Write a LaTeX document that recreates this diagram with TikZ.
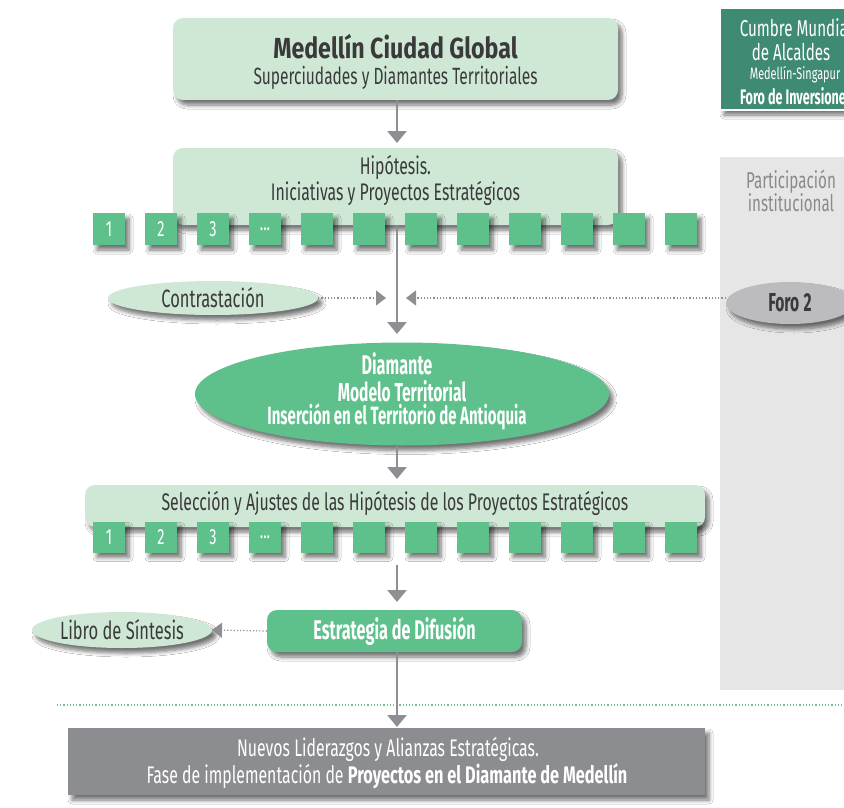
\documentclass[tikz,border=0pt]{standalone}
\usepackage{fontspec}
\setmainfont{Fira Sans}[FakeStretch=0.66]
\newfontfamily\titlefont{Fira Sans}[FakeStretch=0.8]
\newfontfamily\condbold{Fira Sans}[FakeStretch=0.6]
\newfontfamily\medbold{Fira Sans}[FakeStretch=0.68]
\usetikzlibrary{shapes.geometric,arrows.meta,shadows.blur}
\definecolor{lgreen}{HTML}{CFE8D6}
\definecolor{mgreen}{HTML}{5EC08B}
\definecolor{dgreen}{HTML}{3E8A73}
\definecolor{panelgray}{HTML}{E6E6E7}
\definecolor{linegray}{HTML}{8E8F92}
\definecolor{boxgray}{HTML}{8C8D90}
\definecolor{forogray}{HTML}{BCBCBE}
\definecolor{txtdark}{HTML}{3A3A3A}
\definecolor{txtgray}{HTML}{8A8A8D}
\definecolor{dotgreen}{HTML}{6CCB8F}
\newcommand{\fsz}[1]{\fontsize{#1}{#1}\selectfont}
\tikzset{
  shad/.style={blur shadow={shadow xshift=4pt,shadow yshift=-5pt,shadow blur radius=4pt,shadow blur steps=6,shadow opacity=55}},
  lbox/.style={rectangle,rounded corners=10pt,fill=lgreen,shad,align=center,text=txtdark,inner sep=0pt},
  sq/.style={rectangle,fill=mgreen,minimum width=32pt,minimum height=32pt,inner sep=0pt,text=white,font=\fsz{22},shad},
  ell/.style={ellipse,inner sep=0pt,shad,align=center},
  txt/.style={inner sep=0pt},
  flow/.style={draw=linegray,line width=2.6pt,-{Triangle[width=19pt,length=12pt]}},
  dotarrow/.style={draw=linegray,line width=1.2pt,dotted,-{Triangle[width=15pt,length=10pt]}},
}
\begin{document}
\begin{tikzpicture}[x=1pt,y=-1pt]
\useasboundingbox (0,0) rectangle (844,808);
\clip (0,0) rectangle (844,808);
\fill[white] (0,0) rectangle (844,808);
% participation panel
\node[rectangle,fill=panelgray,minimum width=140pt,minimum height=533pt,inner sep=0pt,anchor=north west] (panel) at (720,157) {};
\node[text=txtgray,align=center,font=\fontsize{23}{23}\selectfont] (parttxt) at (791,191) {Participación\\institucional};
% green dotted separator
\coordinate (sepL) at (57,705);
\coordinate (sepR) at (844,705);
\draw[dotgreen,line width=1.2pt,dotted] (sepL) -- (sepR);
% top box
\node[lbox,minimum width=445pt,minimum height=82pt] (top) at (395.5,59) {};
\node[txt,text=txtdark,font=\titlefont\bfseries\fsz{29}] (toptitle) at (395.5,47) {Medellín Ciudad Global};
\node[txt,text=txtdark,font=\fsz{23.5}] (topsub) at (395.5,78) {Superciudades y Diamantes Territoriales};
% cumbre box
\node[rectangle,fill=dgreen,draw=white,line width=2pt,minimum width=140pt,minimum height=102pt,inner sep=0pt,shad] (cumbre) at (790,59) {};
\node[txt,text=white,font=\fsz{23}] (cumbre1) at (796,28) {Cumbre Mundial};
\node[txt,text=white,font=\fsz{23}] (cumbre1b) at (791,52) {de Alcaldes};
\node[txt,text=white,font=\fsz{16.5}] (cumbre2) at (795,75) {Medellín-Singapur};
\node[txt,text=white,font=\condbold\bfseries\fsz{21}] (cumbre3) at (796,96) {Foro de Inversiones};
% hypothesis box
\node[lbox,minimum width=445pt,minimum height=77pt] (hyp) at (395.5,186.5) {};
\node[txt,text=txtdark,font=\fsz{24}] (hyptxt1) at (395.5,167) {Hipótesis.};
\node[txt,text=txtdark,font=\fsz{24}] (hyptxt2) at (395.5,193) {Iniciativas y Proyectos Estratégicos};
% flow lines behind squares
\coordinate (tip1) at (397,143);
\coordinate (tip2) at (397,334);
\draw[flow] (top.south -| tip1) -- (tip1);
\draw[flow] (hyp.south -| tip2) -- (tip2);
% squares row 1
\foreach \i/\t in {0/1,1/2,2/3,3/{...},4/,5/,6/,7/,8/,9/,10/,11/}{
  \node[sq] (a\i) at (109+52*\i,229) {\t};
}
% contrastacion and foro
\node[ell,fill=lgreen,minimum width=210pt,minimum height=34pt,text=txtdark,font=\fsz{25}] (contra) at (213,298) {Contrastación};
\node[ell,fill=forogray,minimum width=128pt,minimum height=42pt,text=txtdark,font=\condbold\bfseries\fsz{26}] (foro) at (790,303) {Foro\,2};
\coordinate (tipc) at (386,298);
\coordinate (tipf) at (406,298);
\draw[dotarrow] (contra.east) -- (tipc);
\draw[dotarrow] (foro.west |- tipf) -- (tipf);
% diamante
\node[ell,fill=mgreen,minimum width=414pt,minimum height=103pt] (diam) at (402,394) {};
\node[txt,text=white,font=\condbold\bfseries\fsz{27}] (diam1a) at (397,364) {Diamante};
\node[txt,text=white,font=\condbold\bfseries\fsz{26}] (diam1b) at (402,391) {Modelo Territorial};
\node[txt,text=white,font=\condbold\bfseries\fsz{25}] (diam2) at (397,417) {Inserción en el Territorio de Antioquia};
\coordinate (tip3) at (397,479);
\draw[flow] (diam.south -| tip3) -- (tip3);
% seleccion box
\node[lbox,minimum width=620pt,minimum height=42pt] (sel) at (395,506) {};
\node[txt,text=txtdark,font=\fsz{24}] (seltxt) at (395,503) {Selección y Ajustes de las Hipótesis de los Proyectos Estratégicos};
\foreach \i/\t in {0/1,1/2,2/3,3/{...},4/,5/,6/,7/,8/,9/,10/,11/}{
  \node[sq,minimum height=31pt] (b\i) at (109+52*\i,537) {\t};
}
\coordinate (tip4) at (397,602);
\draw[flow] (b5.south -| tip4) ++(0,12) -- (tip4);
% estrategia
\node[rectangle,rounded corners=10pt,fill=mgreen,minimum width=255pt,minimum height=42pt,shad,text=white,font=\condbold\bfseries\fsz{27}] (estr) at (394.5,631) {Estrategia de Difusión};
\node[ell,fill=lgreen,minimum width=180pt,minimum height=36pt,text=txtdark,font=\fsz{25}] (libro) at (122,630) {Libro de Síntesis};
\coordinate (tipl) at (212,630);
\draw[dotarrow] (estr.west) -- (tipl);
\coordinate (tip5) at (397,727);
\draw[flow] (estr.south -| tip5) -- (tip5);
% bottom box
\node[rectangle,fill=boxgray,minimum width=637pt,minimum height=67pt,inner sep=0pt,shad] (bottom) at (386.5,761.5) {};
\node[txt,text=white,font=\fsz{24}] (bot1) at (388,749) {Nuevos Liderazgos y Alianzas Estratégicas.};
\node[txt,text=white,font=\fsz{24}] (bot2) at (387,776) {Fase de implementación de {\medbold\bfseries Proyectos en el Diamante de Medellín}};
\end{tikzpicture}
\end{document}
